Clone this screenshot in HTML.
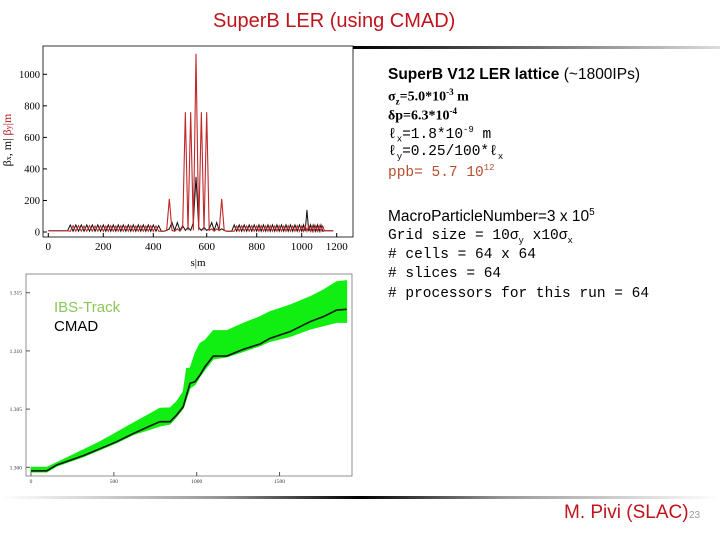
<!DOCTYPE html>
<html><head><meta charset="utf-8"><style>
body{margin:0;width:720px;height:540px;background:#fff;position:relative;overflow:hidden;font-family:"Liberation Sans",sans-serif}
.t{position:absolute;white-space:nowrap}
.mono{font-family:"Liberation Mono",monospace;font-size:14.5px}
.ser{font-family:"Liberation Serif",serif;font-size:14px;font-weight:bold}
</style></head><body>
<div class="t" style="left:213px;top:10px;font-size:20px;color:#c0141c">SuperB LER (using CMAD)</div>
<div style="position:absolute;left:353px;top:46px;width:367px;height:3px;background:linear-gradient(to right,#000,#ddd)"></div>
<div style="position:absolute;left:0;top:496px;width:720px;height:3px;background:linear-gradient(to right,#fff,#999 30%,#000 50%,#999 70%,#fff)"></div>

<svg id="beta" width="720" height="540" style="position:absolute;left:0;top:0" font-family="Liberation Serif, serif"></svg>

<div class="t" style="left:388px;top:66px;font-size:15.5px;font-weight:bold">SuperB V12 LER lattice <span style="font-weight:normal">(~1800IPs)</span></div>
<div class="t ser" style="left:388px;top:87px">σ<sub style="font-size:9px">z</sub>=5.0*10<sup style="font-size:9px">-3</sup> m</div>
<div class="t ser" style="left:388px;top:106px">δp=6.3*10<sup style="font-size:9px">-4</sup></div>
<div class="t mono" style="left:388px;top:125px">ℓ<sub style="font-size:9px">x</sub>=1.8*10<sup style="font-size:9px">-9</sup> m</div>
<div class="t mono" style="left:388px;top:144px">ℓ<sub style="font-size:9px">y</sub>=0.25/100*ℓ<sub style="font-size:9px">x</sub></div>
<div class="t mono" style="left:388px;top:163px;color:#b5502e">ppb= 5.7 10<sup style="font-size:9px">12</sup></div>
<div class="t" style="left:388px;top:207px;font-size:15.5px">MacroParticleNumber=3 x 10<sup style="font-size:10px">5</sup></div>
<div class="t mono" style="left:388px;top:228px">Grid size = 10σ<sub style="font-size:9px">y</sub> x10σ<sub style="font-size:9px">x</sub></div>
<div class="t mono" style="left:388px;top:247px"># cells = 64 x 64</div>
<div class="t mono" style="left:388px;top:266px"># slices = 64</div>
<div class="t mono" style="left:388px;top:286px"># processors for this run = 64</div>

<div class="t" style="left:564px;top:502px;font-size:19px;color:#c0141c">M. Pivi (SLAC)</div>
<div class="t" style="left:689px;top:510px;font-size:10px;color:#999">23</div>

<script>
const sPos=[0,10,20,30,40,50,60,70,80,90,100,110,120,130,140,150,160,170,180,190,200,210,220,230,240,250,260,270,280,290,300,310,320,330,340,350,360,370,380,390,400,410,420,430,440,450,460,470,480,490,500,510,520,530,540,550,560,570,580,590,600,610,620,630,640,650,660,670,680,690,700,710,720,730,740,750,760,770,780,790,800,810,820,830,840,850,860,870,880,890,900,910,920,930,940,950,960,970,980,990,1000,1010,1020,1030,1040,1050,1060,1070,1080,1090,1100,1110,1120,1130,1140,1150,1160,1170,1180,1190,1200,1210,1220,1230,1240,1250,1260];
const betaY=[8,8,8,8,8,8,8,8,
5,40,5,40,5,38,5,40,5,38,5,40,5,38,5,40,5,38,5,40,5,38,5,40,5,38,5,40,5,38,5,40,5,38,5,
5,5,10,210,10,5,20,5,30,760,10,760,10,1130,10,760,10,760,10,20,5,20,10,210,10,5,5,5,5,
38,5,40,5,38,5,40,5,38,5,40,5,38,5,40,5,38,5,40,5,38,5,40,5,38,5,40,5,38,5,40,5,38,5,40,5,38,5,40,5,38,
8,8,8,8,8,8];
const betaX=[8,8,8,8,8,8,8,8,
45,5,45,5,45,5,45,5,45,5,45,5,45,5,45,5,45,5,45,5,45,5,45,5,45,5,45,5,45,5,45,5,45,5,40,
5,5,10,20,60,10,60,10,40,10,30,10,60,350,30,10,30,10,20,60,10,60,10,20,10,5,5,5,45,
5,45,5,45,5,45,5,45,5,45,5,45,5,45,5,45,5,45,5,45,5,45,5,45,5,45,5,45,5,45,5,140,5,45,5,45,5,45,5,45,5,
8,8,8,8,8,8];
const betaYTicks=[0,200,400,600,800,1000];
const sTicks=[0,200,400,600,800,1000,1200];

const turns=[0,95,155,316,417,517,617,718,778,839,879,919,939,960,990,1020,1050,1100,1181,1281,1382,1442,1563,1684,1764,1845,1905];
const cmad=[1.2997,1.2997,1.3002,1.3010,1.3016,1.3022,1.3029,1.30355,1.30392,1.30392,1.30449,1.30521,1.30621,1.30722,1.30735,1.30793,1.30864,1.30956,1.30956,1.31013,1.31059,1.31108,1.31165,1.31251,1.31294,1.31351,1.31357];
const ibsHi=[1.3000,1.3000,1.3004,1.3015,1.3022,1.3030,1.3038,1.3046,1.30507,1.3051,1.30564,1.3065,1.3085,1.3085,1.30979,1.31065,1.3109,1.31174,1.31174,1.31237,1.31294,1.31337,1.31394,1.31465,1.31523,1.31594,1.31603];
const ibsLo=[1.2996,1.2996,1.3001,1.3009,1.3015,1.3021,1.3028,1.30326,1.30355,1.30372,1.30435,1.30507,1.30593,1.3068,1.3071,1.3078,1.3084,1.3093,1.30947,1.30995,1.31044,1.31081,1.31124,1.31187,1.31216,1.31245,1.31245];
const bYTicks=[1.300,1.305,1.310,1.315];
const bXTicks=[0,500,1000,1500];

const svg=document.getElementById('beta');
const NS='http://www.w3.org/2000/svg';
function mk(tag,attrs,parent){const e=document.createElementNS(NS,tag);for(const k in attrs)e.setAttribute(k,attrs[k]);(parent||svg).appendChild(e);return e;}

// top chart: the reference image axis is slightly non-linear; map through calibrated tick anchors
const axS=[0,200,400,600,800,1000,1200,1260], axP=[48.3,103.3,153.3,206.7,256.7,301.7,336.7,347];
function tx(s){for(let i=0;i<axS.length-1;i++){if(s<=axS[i+1]||i===axS.length-2){const f=(s-axS[i])/(axS[i+1]-axS[i]);return axP[i]+f*(axP[i+1]-axP[i]);}}}
const ty=v=>232-v*0.1577;
let fr=mk('rect',{x:43,y:46,width:310,height:191,fill:'none',stroke:'#000','stroke-width':0.8});


betaYTicks.forEach(v=>{
  let l=mk('line',{x1:43,x2:47,y1:ty(v),y2:ty(v),stroke:'#000'});
  
  
  let t=mk('text',{x:40,y:ty(v)+3.5,'font-size':10.5,'text-anchor':'end'});t.textContent=v;
  
  
});
sTicks.forEach(v=>{
  let l=mk('line',{x1:tx(v),x2:tx(v),y1:237,y2:233,stroke:'#000'});
  
  
  let t=mk('text',{x:tx(v),y:250,'font-size':11,'text-anchor':'middle'});t.textContent=v;
  
  
});
let xt=mk('text',{x:198,y:266,'font-size':11,'text-anchor':'middle'});xt.textContent='s|m';


let yt=mk('text',{x:0,y:0,'font-size':12,'text-anchor':'middle',transform:'translate(11,140) rotate(-90)'});
yt.innerHTML='<tspan fill="#000">β<tspan font-size="8">x</tspan>, m|</tspan> <tspan fill="#b01818">β<tspan font-size="8">y</tspan>|m</tspan>';


let px=mk('polyline',{points:sPos.map((s,i)=>tx(s)+','+ty(betaX[i])).join(' '),fill:'none',stroke:'#111','stroke-width':1});


let py=mk('polyline',{points:sPos.map((s,i)=>tx(s)+','+ty(betaY[i])).join(' '),fill:'none',stroke:'#c0282a','stroke-width':1.1});



// bottom chart
const bx=s=>31+s*0.1657, by=v=>467.3-(v-1.3)*11640;
let fr2=mk('rect',{x:26,y:274,width:326,height:202,fill:'none',stroke:'#777','stroke-width':0.8});


bYTicks.forEach(v=>{
  let l=mk('line',{x1:26,x2:30,y1:by(v),y2:by(v),stroke:'#555'});
  
  
  let t=mk('text',{x:22,y:by(v)+2,'font-size':5.5,'text-anchor':'end',fill:'#333'});t.textContent=v.toFixed(3);
  
  
});
bXTicks.forEach(v=>{
  let l=mk('line',{x1:bx(v),x2:bx(v),y1:476,y2:472,stroke:'#555'});
  
  
  let t=mk('text',{x:bx(v),y:483,'font-size':5.5,'text-anchor':'middle',fill:'#333'});t.textContent=v;
  
  
});
let band=mk('polygon',{points:turns.map((s,i)=>bx(s)+','+by(ibsHi[i])).concat(turns.slice().reverse().map((s,j)=>{const i=turns.length-1-j;return bx(s)+','+by(ibsLo[i]);})).join(' '),fill:'#11ee11',stroke:'#11ee11','stroke-width':1});


let cl=mk('polyline',{points:turns.map((s,i)=>bx(s)+','+by(cmad[i])).join(' '),fill:'none',stroke:'#111','stroke-width':1.6});


let l1=mk('text',{x:54,y:312,'font-size':15,fill:'#8cc45a','font-family':'Liberation Sans, sans-serif'});l1.textContent='IBS-Track';


let l2=mk('text',{x:54,y:331,'font-size':15,fill:'#000','font-family':'Liberation Sans, sans-serif'});l2.textContent='CMAD';


</script>
</body></html>
